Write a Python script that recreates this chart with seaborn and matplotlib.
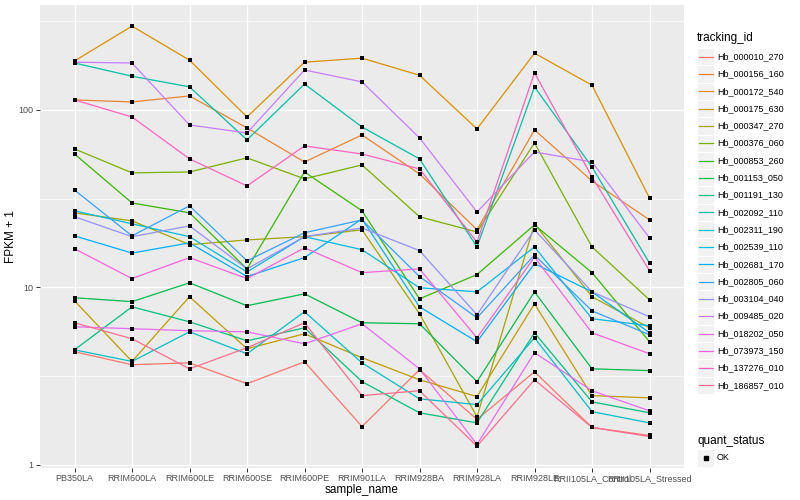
import numpy as np
import pandas as pd
import matplotlib
matplotlib.use("Agg")
import matplotlib.pyplot as plt
import seaborn as sns
from matplotlib.lines import Line2D
from matplotlib.patches import Rectangle
from matplotlib.ticker import FixedLocator, FuncFormatter, NullFormatter

samples = ["PB350LA", "RRIM600LA", "RRIM600LE", "RRIM600SE", "RRIM600PE",
           "RRIM901LA", "RRIM928BA", "RRIM928LA", "RRIM928LE",
           "RRII105LA_Control", "RRII105LA_Stressed"]

tracking_ids = ["Hb_000010_270", "Hb_000156_160", "Hb_000172_540", "Hb_000175_630",
                "Hb_000347_270", "Hb_000376_060", "Hb_000853_260", "Hb_001153_050",
                "Hb_001191_130", "Hb_002092_110", "Hb_002311_190", "Hb_002539_110",
                "Hb_002681_170", "Hb_002805_060", "Hb_003104_040", "Hb_009485_020",
                "Hb_018202_050", "Hb_073973_150", "Hb_137276_010", "Hb_186857_010"]

# FPKM + 1 values per gene, one per sample
Hb_000010_270 = [4.33, 3.66, 3.75, 2.86, 3.80, 1.64, 3.43, 1.80, 3.34, 1.62, 1.46]
Hb_000156_160 = [114, 111, 120, 79.2, 50.9, 72.3, 43.6, 21.1, 77.2, 39.8, 24.0]
Hb_000172_540 = [189, 297, 191, 91.3, 186, 196, 157, 78.2, 209, 138, 31.9]
Hb_000175_630 = [8.39, 3.82, 8.85, 4.50, 5.47, 4.01, 3.01, 2.42, 8.07, 2.45, 2.38]
Hb_000347_270 = [26.3, 23.7, 17.4, 18.5, 19.3, 21.1, 7.09, 1.86, 22.8, 8.85, 5.91]
Hb_000376_060 = [60.3, 44.2, 44.7, 53.7, 40.9, 49.0, 25.0, 20.5, 65.2, 16.9, 8.50]
Hb_000853_260 = [56.5, 29.9, 26.3, 12.7, 44.7, 27.0, 8.61, 11.8, 22.5, 12.1, 4.93]
Hb_001153_050 = [8.73, 8.30, 10.6, 7.87, 9.19, 6.31, 6.23, 2.94, 9.43, 3.47, 3.39]
Hb_001191_130 = [4.44, 7.76, 6.39, 4.99, 5.91, 2.94, 1.96, 1.72, 5.54, 2.26, 1.96]
Hb_002092_110 = [184, 155, 135, 67.8, 140, 80.2, 53.0, 16.9, 135, 47.7, 13.7]
Hb_002311_190 = [4.44, 3.82, 5.61, 4.22, 7.28, 3.75, 2.35, 2.18, 5.19, 1.99, 1.72]
Hb_002539_110 = [27.0, 22.8, 19.3, 12.2, 19.3, 16.3, 9.94, 9.43, 16.9, 6.65, 6.07]
Hb_002681_170 = [19.5, 15.6, 17.8, 11.5, 14.7, 24.3, 7.76, 4.93, 13.6, 9.43, 5.54]
Hb_002805_060 = [35.4, 19.5, 28.8, 14.1, 20.3, 24.0, 11.5, 6.73, 15.2, 7.37, 5.40]
Hb_003104_040 = [25.0, 19.3, 22.2, 12.7, 19.3, 21.6, 16.1, 7.00, 21.1, 9.43, 6.82]
Hb_009485_020 = [186, 184, 82.3, 74.2, 168, 144, 69.6, 26.6, 58.0, 50.9, 19.0]
Hb_018202_050 = [5.99, 5.84, 5.69, 5.61, 4.80, 6.23, 3.47, 1.30, 4.28, 2.61, 2.01]
Hb_073973_150 = [16.5, 11.2, 14.7, 11.2, 16.7, 12.1, 12.7, 5.19, 14.8, 5.54, 4.22]
Hb_137276_010 = [114, 91.3, 53.0, 37.3, 62.7, 56.5, 46.5, 18.0, 162, 41.9, 12.4]
Hb_186857_010 = [6.31, 5.13, 3.47, 4.56, 6.31, 2.45, 2.61, 1.27, 3.01, 1.62, 1.44]

series_values = [Hb_000010_270, Hb_000156_160, Hb_000172_540, Hb_000175_630,
                 Hb_000347_270, Hb_000376_060, Hb_000853_260, Hb_001153_050,
                 Hb_001191_130, Hb_002092_110, Hb_002311_190, Hb_002539_110,
                 Hb_002681_170, Hb_002805_060, Hb_003104_040, Hb_009485_020,
                 Hb_018202_050, Hb_073973_150, Hb_137276_010, Hb_186857_010]

palette = ["#F8766D", "#EA8331", "#D89000", "#C09B00", "#A3A500", "#7CAE00",
           "#39B600", "#00BB4E", "#00BF7D", "#00C1A3", "#00BFC4", "#00BAE0",
           "#00B0F6", "#35A2FF", "#9590FF", "#C77CFF", "#E76BF3", "#FA62DB",
           "#FF62BC", "#FF6C91"]

rows = []
for tid, vals in zip(tracking_ids, series_values):
    for s, v in zip(samples, vals):
        rows.append({"tracking_id": tid, "sample_name": s, "fpkm1": v, "quant_status": "OK"})
df = pd.DataFrame(rows)

FONT = "Liberation Sans"
plt.rcParams["font.family"] = [FONT, "DejaVu Sans"]

W, H = 800, 500
fig = plt.figure(figsize=(W / 100, H / 100), dpi=100)
fig.patch.set_facecolor("white")
ax = fig.add_axes([40 / W, 1 - 468 / H, (684 - 40) / W, (468 - 5) / H])
ax.set_facecolor("#EBEBEB")

sns.lineplot(data=df, x="sample_name", y="fpkm1", hue="tracking_id",
             hue_order=tracking_ids, palette=palette, sort=False,
             linewidth=0.9, legend=False, ax=ax, zorder=3)
sns.scatterplot(data=df, x="sample_name", y="fpkm1", color="black", marker="s",
                s=9, linewidth=0, legend=False, ax=ax, zorder=4)

ax.set_yscale("log")
ax.set_ylim(10 ** -0.019, 10 ** 2.592)
ax.set_xlim(-0.6, len(samples) - 1 + 0.6)
ax.yaxis.set_major_locator(FixedLocator([1, 10, 100]))
ax.yaxis.set_minor_locator(FixedLocator([10 ** 0.5, 10 ** 1.5, 10 ** 2.5]))
ax.yaxis.set_major_formatter(FuncFormatter(lambda v, p: f"{v:g}"))
ax.yaxis.set_minor_formatter(NullFormatter())

ax.grid(which="major", color="white", linewidth=1.0, zorder=0)
ax.grid(which="minor", axis="y", color="white", linewidth=0.5, zorder=0)
ax.set_axisbelow(True)
for sp in ax.spines.values():
    sp.set_visible(False)
ax.tick_params(axis="both", which="major", length=3, width=0.7, color="#333333",
               labelsize=6.5, labelcolor="#4D4D4D", pad=1.5)
ax.tick_params(axis="y", which="minor", length=0)
ax.set_xlabel("sample_name", fontsize=8.5, labelpad=0.5)
ax.set_ylabel("FPKM + 1", fontsize=8.5, labelpad=1.5)


def fx(px):
    return px / W


def fy(py):
    return 1 - py / H


# legend: tracking_id (ggplot-style keys drawn in figure coordinates)
key_x0, key_w, row_h = 697, 17, 17.3
first_y = 56.7
fig.text(fx(697), fy(38), "tracking_id", fontsize=8.5, va="center", ha="left")
for i, (tid, col) in enumerate(zip(tracking_ids, palette)):
    cy = first_y + i * row_h
    fig.add_artist(Rectangle((fx(key_x0), fy(cy + row_h / 2)), key_w / W, row_h / H,
                             transform=fig.transFigure, facecolor="#F2F2F2",
                             edgecolor="white", linewidth=0.8))
    fig.add_artist(Line2D([fx(key_x0 + 1.5), fx(key_x0 + key_w - 1.5)], [fy(cy), fy(cy)],
                          transform=fig.transFigure, color=col, linewidth=0.9))
    fig.text(fx(717), fy(cy), tid, fontsize=6.5, va="center", ha="left")

# legend: quant_status
fig.text(fx(697), fy(441), "quant_status", fontsize=8.5, va="center", ha="left")
cy = 458
fig.add_artist(Rectangle((fx(key_x0), fy(cy + row_h / 2)), key_w / W, row_h / H,
                         transform=fig.transFigure, facecolor="#F2F2F2",
                         edgecolor="white", linewidth=0.8))
fig.add_artist(Line2D([fx(key_x0 + key_w / 2)], [fy(cy)], transform=fig.transFigure,
                      color="black", marker="s", markersize=2.8, linestyle="none"))
fig.text(fx(717), fy(cy), "OK", fontsize=6.5, va="center", ha="left")

fig.savefig("out.png", dpi=100)
